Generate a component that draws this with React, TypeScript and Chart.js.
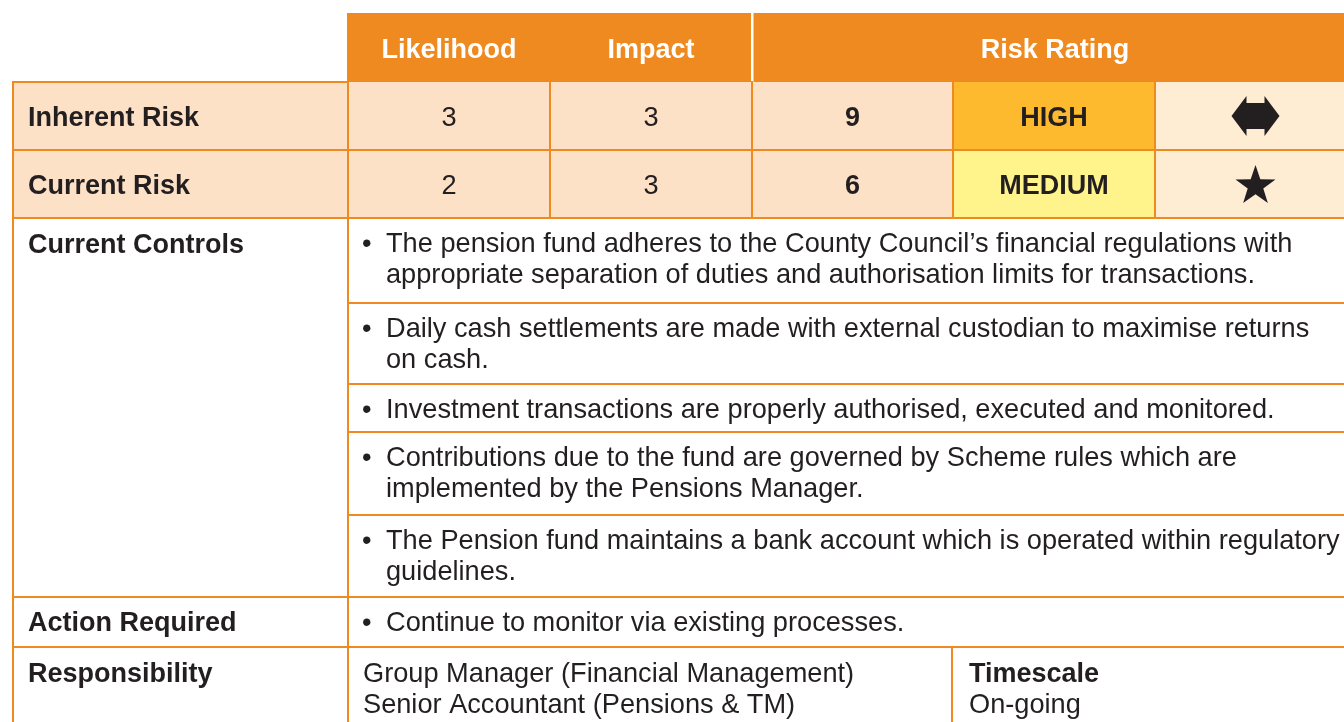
import React, { useEffect, useRef } from "react";
import { Chart, registerables } from "chart.js";

Chart.register(...registerables);

// ---- data ----
const headerLabels = ["Likelihood", "Impact", "Risk Rating"];
const rowLabels = ["Inherent Risk", "Current Risk"];
const likelihood = [3, 2];
const impact = [3, 3];
const riskScore = [9, 6];
const riskRating = ["HIGH", "MEDIUM"];
const trendIcons = ["arrow", "star"];
const sectionLabels = ["Current Controls", "Action Required", "Responsibility"];
const controls = [
  [
    "The pension fund adheres to the County Council\u2019s financial regulations with",
    "appropriate separation of duties and authorisation limits for transactions.",
  ],
  ["Daily cash settlements are made with external custodian to maximise returns", "on cash."],
  ["Investment transactions are properly authorised, executed and monitored."],
  ["Contributions due to the fund are governed by Scheme rules which are", "implemented by the Pensions Manager."],
  ["The Pension fund maintains a bank account which is operated within regulatory", "guidelines."],
];
const actions = ["Continue to monitor via existing processes."];
const responsibility = ["Group Manager (Financial Management)", "Senior Accountant (Pensions & TM)"];
const timescaleLabel = "Timescale";
const timescale = ["On-going"];

// ---- styles / layout ----
const FONT = "'Liberation Sans', Arial, Helvetica, sans-serif";
const ORANGE = "#EE8A1F";
const PEACH = "#FCE1C6";
const HIGH_BG = "#FDBA2E";
const MED_BG = "#FFF38C";
const ICON_BG = "#FEECD3";
const TEXT = "#231F20";
const FS_BOLD = 27;
const FS_REG = 27.2;
const LINE_H = 31;

const colEdges = [13, 348, 550, 752, 953, 1155, 1358];
const headerTop = 13;
const riskRows = [82, 150, 218];
const controlEdges = [218, 303, 384, 432, 515, 597];
const actionEdges = [597, 647];
const respEdges = [647, 740];
const respSplit = 952;
const ratingFills = [HIGH_BG, MED_BG];

const tablePlugin = {
  id: "riskTable",
  afterDraw(chart: any) {
    const ctx: CanvasRenderingContext2D = chart.ctx;
    const xs = chart.scales.x;
    const ys = chart.scales.y;
    const X = (v: number) => xs.getPixelForValue(v);
    const Y = (v: number) => ys.getPixelForValue(v);
    const rect = (x0: number, y0: number, x1: number, y1: number, c: string) => {
      ctx.fillStyle = c;
      ctx.fillRect(X(x0), Y(y0), X(x1) - X(x0), Y(y1) - Y(y0));
    };
    const hLine = (y: number, x0: number, x1: number) => rect(x0 - 1, y - 1, x1 + 1, y + 1, ORANGE);
    const vLine = (x: number, y0: number, y1: number) => rect(x - 1, y0 - 1, x + 1, y1 + 1, ORANGE);
    const text = (s: string, x: number, y: number, bold: boolean, align: CanvasTextAlign, color = TEXT) => {
      ctx.font = `${bold ? "bold " : ""}${bold ? FS_BOLD : FS_REG}px ${FONT}`;
      ctx.fillStyle = color;
      ctx.textAlign = align;
      ctx.textBaseline = "alphabetic";
      ctx.fillText(s, X(x), Y(y));
    };
    const right = colEdges[colEdges.length - 1];

    ctx.save();
    // header
    rect(colEdges[1] - 1, headerTop, right, riskRows[0], ORANGE);
    rect(colEdges[3] - 1, headerTop, colEdges[3] + 1.5, riskRows[0], "#FFFFFF");
    const hb = (headerTop + riskRows[0]) / 2 + 10;
    text(headerLabels[0], (colEdges[1] + colEdges[2]) / 2, hb, true, "center", "#FFFFFF");
    text(headerLabels[1], (colEdges[2] + colEdges[3]) / 2, hb, true, "center", "#FFFFFF");
    text(headerLabels[2], (colEdges[3] + colEdges[6]) / 2, hb, true, "center", "#FFFFFF");

    // risk rows
    for (let r = 0; r < rowLabels.length; r++) {
      const y0 = riskRows[r];
      const y1 = riskRows[r + 1];
      rect(colEdges[0], y0, colEdges[4], y1, PEACH);
      rect(colEdges[4], y0, colEdges[5], y1, ratingFills[r]);
      rect(colEdges[5], y0, right, y1, ICON_BG);
      const bl = (y0 + y1) / 2 + 10;
      text(rowLabels[r], 28, bl, true, "left");
      text(String(likelihood[r]), (colEdges[1] + colEdges[2]) / 2, bl, false, "center");
      text(String(impact[r]), (colEdges[2] + colEdges[3]) / 2, bl, false, "center");
      text(String(riskScore[r]), (colEdges[3] + colEdges[4]) / 2, bl, true, "center");
      text(riskRating[r], (colEdges[4] + colEdges[5]) / 2, bl, true, "center");
      // icons
      const cx = X((colEdges[5] + colEdges[6]) / 2 - 1);
      const cy = Y((y0 + y1) / 2);
      ctx.fillStyle = TEXT;
      ctx.beginPath();
      if (trendIcons[r] === "arrow") {
        const pts = [
          [-24, 0], [-9, -20], [-9, -13], [9, -13], [9, -20], [24, 0],
          [9, 20], [9, 13], [-9, 13], [-9, 20],
        ];
        pts.forEach(([dx, dy], i) => (i ? ctx.lineTo(cx + dx, cy + dy) : ctx.moveTo(cx + dx, cy + dy)));
      } else {
        const R = 21;
        const ri = 8.2;
        const scy = cy + 2;
        for (let k = 0; k < 10; k++) {
          const a = -Math.PI / 2 + (k * Math.PI) / 5;
          const rr = k % 2 === 0 ? R : ri;
          const px = cx + rr * Math.cos(a);
          const py = scy + rr * Math.sin(a);
          k ? ctx.lineTo(px, py) : ctx.moveTo(px, py);
        }
      }
      ctx.closePath();
      ctx.fill();
    }

    // controls
    const bulletX = 362;
    const textX = 386;
    text(sectionLabels[0], 28, controlEdges[0] + 35, true, "left");
    controls.forEach((lines, i) => {
      const top = controlEdges[i];
      lines.forEach((ln, j) => {
        const b = top + 34 + j * LINE_H;
        if (j === 0) text("\u2022", bulletX, b, false, "left");
        text(ln, textX, b, false, "left");
      });
    });

    // action
    const ab = (actionEdges[0] + actionEdges[1]) / 2 + 9;
    text(sectionLabels[1], 28, ab, true, "left");
    actions.forEach((a, i) => {
      text("\u2022", bulletX, ab + i * LINE_H, false, "left");
      text(a, textX, ab + i * LINE_H, false, "left");
    });

    // responsibility
    const rb = respEdges[0] + 35;
    text(sectionLabels[2], 28, rb, true, "left");
    responsibility.forEach((s, i) => text(s, 363, rb + i * LINE_H, false, "left"));
    text(timescaleLabel, 969, rb, true, "left");
    timescale.forEach((s, i) => text(s, 969, rb + (i + 1) * LINE_H, false, "left"));

    // grid lines
    hLine(riskRows[0], colEdges[0], colEdges[1]);
    hLine(riskRows[1], colEdges[0], right);
    hLine(riskRows[2], colEdges[0], right);
    for (let i = 1; i < controlEdges.length - 1; i++) hLine(controlEdges[i], colEdges[1], right);
    hLine(actionEdges[0], colEdges[0], right);
    hLine(respEdges[0], colEdges[0], right);
    vLine(colEdges[0], riskRows[0], respEdges[1]);
    vLine(colEdges[1], riskRows[0], respEdges[1]);
    for (let c = 2; c <= 5; c++) vLine(colEdges[c], riskRows[0], riskRows[2]);
    vLine(respSplit, respEdges[0], respEdges[1]);
    ctx.restore();
  },
};

export default function App() {
  const ref = useRef<HTMLCanvasElement | null>(null);
  useEffect(() => {
    if (!ref.current) return;
    const chart = new Chart(ref.current, {
      type: "scatter",
      data: { datasets: [] },
      options: {
        responsive: false,
        animation: false,
        devicePixelRatio: 1,
        events: [],
        layout: { padding: 0 },
        plugins: { legend: { display: false }, tooltip: { enabled: false } },
        scales: {
          x: { type: "linear", min: 0, max: 1344, display: false },
          y: { type: "linear", min: 0, max: 722, reverse: true, display: false },
        },
      },
      plugins: [tablePlugin],
    });
    return () => chart.destroy();
  }, []);
  return (
    <div style={{ position: "absolute", left: 0, top: 0, width: 1344, height: 722, background: "#fff" }}>
      <canvas ref={ref} width={1344} height={722} style={{ display: "block", width: 1344, height: 722 }} />
    </div>
  );
}
